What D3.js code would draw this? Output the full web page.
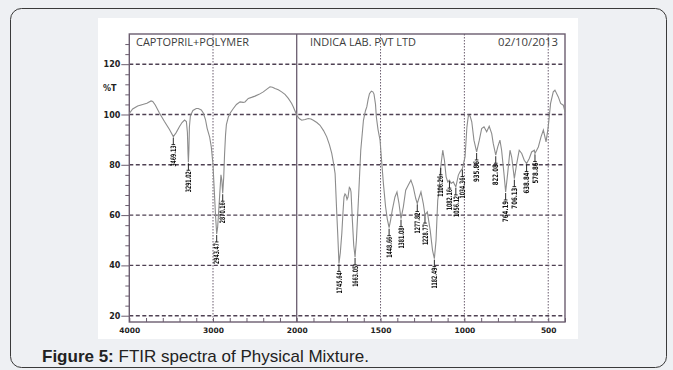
<!DOCTYPE html>
<html>
<head>
<meta charset="utf-8">
<script src="https://cdn.jsdelivr.net/npm/d3@7"></script>
<style>
  html, body { margin: 0; padding: 0; background: #eef0f3; }
  svg { display: block; }
  .peak text { -webkit-font-smoothing: antialiased; }
</style>
</head>
<body>
<svg id="chart" width="673" height="370"></svg>
<script>
// spectrum: wavenumber (cm-1) and %T
const wavenumbers = [
  4000, 3960, 3900, 3840, 3790, 3740, 3720, 3690, 3640, 3580, 3520, 3474, 3440, 3400, 3370, 3340, 3318, 3306, 3298, 3294,
  3288, 3282, 3270, 3240, 3200, 3176, 3140, 3116, 3090, 3070, 3040, 3020, 3000, 2985, 2970, 2956, 2945, 2935, 2920, 2905,
  2895, 2884, 2872, 2862, 2850, 2840, 2817, 2790, 2757, 2720, 2677, 2640, 2618, 2578, 2540, 2498, 2450, 2399, 2360, 2319,
  2290, 2259, 2220, 2180, 2140, 2100, 2060, 2040, 2015, 2000, 1985, 1970, 1950, 1931, 1915, 1901, 1880, 1861, 1840, 1821,
  1805, 1791, 1780, 1771, 1761, 1755, 1748, 1740, 1731, 1724, 1718, 1712, 1706, 1700, 1694, 1686, 1680, 1676, 1668, 1660,
  1652, 1644, 1632, 1618, 1602, 1590, 1582, 1574, 1566, 1555, 1546, 1539, 1530, 1525, 1515, 1503, 1493, 1483, 1470, 1460,
  1449, 1440, 1430, 1414, 1402, 1390, 1378, 1364, 1350, 1335, 1319, 1305, 1290, 1281, 1269, 1259, 1245, 1235, 1221, 1204,
  1190, 1179, 1169, 1159, 1151, 1141, 1129, 1119, 1109, 1099, 1089, 1079, 1066, 1051, 1036, 1026, 1012, 996, 985, 976,
  966, 956, 943, 927, 911, 897, 883, 867, 852, 837, 828, 813, 801, 788, 778, 764, 754, 742, 728, 718,
  702, 688, 673, 658, 643, 629, 613, 599, 583, 579, 559, 543, 529, 513, 500, 486, 470, 460, 440, 426,
  410, 400
];
const transmittance = [
  100.4, 102.2, 103.4, 104.0, 104.5, 105.4, 105.2, 103.8, 100.6, 97.2, 94.0, 91.2, 92.8, 95.2, 96.8, 97.8, 97.2, 93, 84, 81,
  86, 95, 99.5, 101.6, 102.4, 102.4, 101.8, 100.6, 98, 94.5, 91, 87, 80, 70, 60, 52.5, 55, 60, 68, 76,
  74, 68.7, 75, 84, 92, 96, 99, 100.8, 102.4, 104, 105, 104.8, 105, 106.4, 106.8, 107.3, 108, 109, 110, 111,
  110.8, 110.3, 109.8, 109, 108, 106.4, 104.4, 103, 101, 99.7, 98.4, 97.7, 98, 98.4, 98.2, 97.7, 96.8, 95.7, 93.6, 91.1,
  88, 84.5, 80.5, 76.5, 60.6, 52, 40.8, 45, 52.7, 61, 67.2, 68.4, 67.9, 66.2, 67.2, 71, 70.5, 69.2, 58, 48,
  43.4, 50, 65.9, 85.8, 97.7, 101.5, 103, 106, 108.3, 109.3, 109, 108.1, 104, 99, 94, 89.8, 81, 72.6, 63.3, 58.5,
  55, 58, 62, 67.2, 69.2, 64.6, 58.6, 63.3, 69.9, 71.9, 73.9, 71.2, 66.6, 64.6, 67.2, 69.2, 64.6, 60, 61.3, 54,
  46, 42.7, 50, 65.9, 69.9, 79.2, 85.8, 81.8, 75.2, 73.2, 73.9, 72.6, 73.2, 71.2, 75.9, 77.2, 78.5, 83.1, 95, 99.7,
  99.4, 97.1, 89.8, 85.1, 89.8, 94.4, 95.1, 93.1, 95.3, 92.4, 88.5, 83.8, 87.1, 89.8, 85.8, 76.5, 69.2, 76.5, 85.8, 83.1,
  74.5, 80.5, 85.8, 84.5, 81.8, 80.5, 82.5, 85.1, 85.8, 84.5, 87.1, 91.1, 93.8, 89.1, 95.1, 104.4, 109, 109.7, 107, 104.4,
  103.7, 101
];

// peak annotations: printed text and the wavenumber it sits on in the picture
const peakLabels = [
  "3469.13", "3291.02", "2943.47", "2870.16", "1745.64", "1663.05", "1448.66", "1381.08", "1277.82", "1228.77",
  "1182.49", "1106.26", "1082.16", "1056.12", "1034.36", "935.86", "822.08", "764.19", "706.13", "638.84", "578.86"
];
const peakWavenumbers = [
  3474, 3294, 2956, 2884, 1748, 1652, 1449, 1378, 1281, 1235,
  1179, 1141, 1089, 1051, 1012, 927, 813, 754, 702, 629, 579
];

const xTickLabels = [4000, 3000, 2000, 1500, 1000, 500];
const yTickLabels = [20, 40, 60, 80, 100, 120];
const dottedLines = [3000, 1500, 1000, 500];
const headerTexts = ["CAPTOPRIL+POLYMER", "INDICA LAB. PVT LTD", "02/10/2013"];

const frame = { left: 129.3, right: 565, top: 34, bottom: 322 };
const ink = "#6b5d6f";

const svg = d3.select("#chart");

// page background + rounded card
svg.append("rect").attr("width", 673).attr("height", 370).attr("fill", "#eef0f3");
svg.append("rect")
  .attr("x", 10.5).attr("y", 8.5).attr("width", 656).attr("height", 359)
  .attr("rx", 11).attr("fill", "none").attr("stroke", "#3a3a3a").attr("stroke-width", 1);

// white scan area
svg.append("rect").attr("x", 98).attr("y", 18).attr("width", 480).attr("height", 321).attr("fill", "#ffffff");

// x axis is split: 4000-2000 at half the scale of 2000-400
const x = d3.scaleLinear().domain([4000, 2000, 400]).range([frame.left, 296.7, frame.right]);
const y = d3.scaleLinear().domain([17.5, 132]).range([frame.bottom, frame.top]);

const g = svg.append("g");

// horizontal dashed grid
g.selectAll(".hgrid").data(yTickLabels).join("line")
  .attr("class", "hgrid")
  .attr("x1", frame.left).attr("x2", frame.right)
  .attr("y1", d => y(d)).attr("y2", d => y(d))
  .attr("stroke", "#4f4153").attr("stroke-width", 1.4).attr("stroke-dasharray", "4,2.5");

// vertical dotted grid
g.selectAll(".vgrid").data(dottedLines).join("line")
  .attr("class", "vgrid")
  .attr("x1", d => x(d)).attr("x2", d => x(d))
  .attr("y1", frame.top).attr("y2", frame.bottom)
  .attr("stroke", ink).attr("stroke-width", 1).attr("stroke-dasharray", "1.5,1.5");

// solid break line at 2000
g.append("line")
  .attr("x1", x(2000)).attr("x2", x(2000)).attr("y1", frame.top).attr("y2", frame.bottom)
  .attr("stroke", ink).attr("stroke-width", 1.3);

// frame
g.append("rect")
  .attr("x", frame.left).attr("y", frame.top)
  .attr("width", frame.right - frame.left).attr("height", frame.bottom - frame.top)
  .attr("fill", "none").attr("stroke", ink).attr("stroke-width", 1.4);

// y axis ticks: minor every 4, majors labelled
const yAxis = d3.axisLeft(y)
  .tickValues(d3.range(20, 132, 4))
  .tickSize(4)
  .tickFormat(d => yTickLabels.includes(d) ? d : "");
const ya = g.append("g").attr("transform", `translate(${frame.left},0)`).call(yAxis);
ya.select(".domain").remove();
ya.selectAll(".tick line").attr("stroke", ink).attr("stroke-width", 1)
  .attr("x2", d => yTickLabels.includes(d) ? -8 : -4);
ya.selectAll(".tick text")
  .attr("x", -9).attr("fill", "#222")
  .style("font-family", "'DejaVu Sans', sans-serif").style("font-size", "8px").style("font-weight", "bold");

g.append("text").attr("x", 103).attr("y", 91).text("%T")
  .attr("fill", "#222").style("font-family", "'DejaVu Sans', sans-serif").style("font-size", "8px").style("font-weight", "bold");

// x axis: ticks point into the plot
const xAxis = d3.axisBottom(x)
  .tickValues(d3.range(4000, 2000, -200).concat(d3.range(2000, 399, -100)))
  .tickSize(-4)
  .tickFormat(d => xTickLabels.includes(d) ? d : "");
const xa = g.append("g").attr("transform", `translate(0,${frame.bottom})`).call(xAxis);
xa.select(".domain").remove();
xa.selectAll(".tick line").attr("stroke", ink).attr("stroke-width", 1);
xa.selectAll(".tick text")
  .attr("y", 6).attr("fill", "#222")
  .style("font-family", "'DejaVu Sans', sans-serif").style("font-size", "7.5px").style("font-weight", "bold");

// header row
const headerX = [136, 310, 498];
const headerW = [113, 106, 60];
g.selectAll(".hdr").data(headerTexts).join("text")
  .attr("class", "hdr")
  .attr("x", (d, i) => headerX[i]).attr("y", 45.5)
  .attr("textLength", (d, i) => headerW[i]).attr("lengthAdjust", "spacingAndGlyphs")
  .attr("fill", "#3d3d3d")
  .style("font-family", "'Open Sans', sans-serif").style("font-size", "10.5px")
  .text(d => d);

// spectrum
const pts = wavenumbers.map((w, i) => [w, transmittance[i]]);
g.append("path")
  .datum(pts)
  .attr("fill", "none").attr("stroke", "#8c8c8c").attr("stroke-width", 1.1)
  .attr("d", d3.line().x(d => x(d[0])).y(d => y(d[1])));

// peak markers (group opacity keeps the rotated text in grayscale AA)
const atWn = w => transmittance[wavenumbers.indexOf(w)];
const peakLayer = g.append("g").attr("opacity", 0.99);
const peaks = peakLayer.selectAll(".peak").data(peakLabels).join("g")
  .attr("class", "peak")
  .attr("transform", (d, i) => `translate(${x(peakWavenumbers[i])},${y(atWn(peakWavenumbers[i]))})`);
peaks.append("line").attr("x1", 0).attr("x2", 0).attr("y1", 1).attr("y2", 8)
  .attr("stroke", "#111").attr("stroke-width", 0.9);
peaks.append("line").attr("x1", -1.8).attr("x2", 1.8).attr("y1", 8).attr("y2", 8)
  .attr("stroke", "#111").attr("stroke-width", 0.9);
peaks.append("text")
  .attr("transform", "translate(0,9) rotate(-90)")
  .attr("text-anchor", "end").attr("dy", "0.36em")
  .attr("textLength", 21).attr("lengthAdjust", "spacingAndGlyphs")
  .attr("fill", "#111")
  .style("font-family", "'Liberation Sans Narrow', 'DejaVu Sans Condensed', sans-serif")
  .style("font-size", "7.5px").style("font-weight", "bold")
  .text(d => d);

// caption
const cap = svg.append("text").attr("x", 42).attr("y", 362)
  .style("font-family", "'Liberation Sans', Arial, sans-serif").style("font-size", "17px").attr("fill", "#222");
cap.append("tspan").style("font-weight", "bold").text("Figure 5:");
cap.append("tspan").text(" FTIR spectra of Physical Mixture.");
</script>
</body>
</html>
